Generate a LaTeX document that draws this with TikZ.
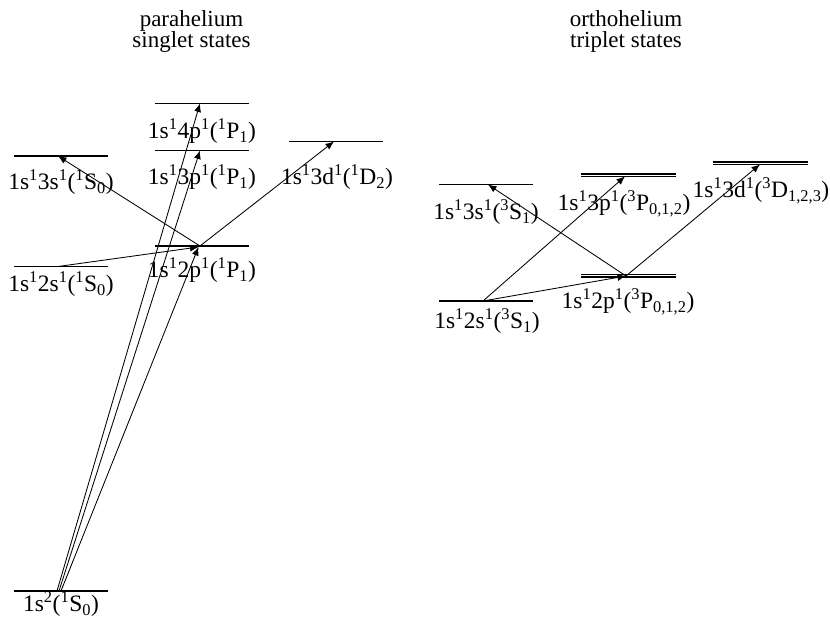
\documentclass[tikz,border=0pt]{standalone}
\usepackage{fontspec}
\setmainfont{Liberation Serif}
\usetikzlibrary{arrows.meta}
\newcommand\up[1]{\textsuperscript{#1}}
\newcommand\dn[1]{\textsubscript{#1}}
\newcommand\trilevel[3]{\foreach \d in {-1.7,0,1.7}{\draw[thinlvl] (#1,#3+\d) -- (#2,#3+\d);}}
\begin{document}
\begin{tikzpicture}[x=1pt,y=-1pt,
  lvl/.style={line width=1.1pt},
  thinlvl/.style={line width=0.65pt},
  arr/.style={-{Latex[length=8.5pt,width=7pt]},line width=0.85pt},
  lab/.style={font=\fontsize{23.5}{27}\selectfont,inner sep=0pt},
  ttl/.style={font=\fontsize{23}{27}\selectfont,inner sep=0pt}]
\useasboundingbox (0,0) rectangle (830,620);

% titles
\node[ttl,anchor=base] (tpara) at (191.5,27) {parahelium};
\node[ttl,anchor=base] (tsing) at (191.5,48) {singlet states};
\node[ttl,anchor=base] (tortho) at (626,27) {orthohelium};
\node[ttl,anchor=base] (ttrip) at (626,48) {triplet states};

% singlet levels
\draw[lvl] (14,591) -- (108,591);
\draw[lvl] (14,266.5) -- (108,266.5);
\draw[lvl] (14,156) -- (108,156);
\draw[lvl] (155,246) -- (249,246);
\draw[lvl] (155,150.5) -- (249,150.5);
\draw[lvl] (155,103.5) -- (249,103.5);
\draw[lvl] (289,141.5) -- (383,141.5);

% singlet labels
\node[lab] (lg) at (61,604) {1s\up{2}(\up{1}S\dn{0})};
\node[lab] (ls2) at (61,284) {1s\up{1}2s\up{1}(\up{1}S\dn{0})};
\node[lab] (ls3) at (61,182.5) {1s\up{1}3s\up{1}(\up{1}S\dn{0})};
\node[lab] (lp2) at (202,270) {1s\up{1}2p\up{1}(\up{1}P\dn{1})};
\node[lab] (lp3) at (202,177) {1s\up{1}3p\up{1}(\up{1}P\dn{1})};
\node[lab] (lp4) at (202,131) {1s\up{1}4p\up{1}(\up{1}P\dn{1})};
\node[lab] (ld3) at (337,177) {1s\up{1}3d\up{1}(\up{1}D\dn{2})};

% singlet transition points
\coordinate (ga) at (57,591);
\coordinate (gb) at (59,591);
\coordinate (gc) at (61,591);
\coordinate (s2) at (58,266.5);
\coordinate (s3) at (58,156);
\coordinate (p2) at (200,246);
\coordinate (p2t) at (198.5,247);
\coordinate (p3) at (200,150.5);
\coordinate (p4) at (200,103.5);
\coordinate (d3) at (334,141.5);

\draw[arr] (ga) -- (p4);
\draw[arr] (gb) -- (p3);
\draw[arr] (gc) -- (p2t);
\draw[arr] (s2) -- (p2t);
\draw[arr] (p2) -- (s3);
\draw[arr] (p2) -- (d3);

% triplet levels
\draw[lvl] (439,301) -- (533,301);
\draw[lvl] (439,184.5) -- (533,184.5);
\trilevel{581}{676}{276}
\trilevel{581}{676}{174.7}
\trilevel{713}{808}{162.7}

% triplet labels
\node[lab] (tls2) at (487,321) {1s\up{1}2s\up{1}(\up{3}S\dn{1})};
\node[lab] (tls3) at (486,212) {1s\up{1}3s\up{1}(\up{3}S\dn{1})};
\node[lab] (tlp2) at (628,302) {1s\up{1}2p\up{1}(\up{3}P\dn{0,1,2})};
\node[lab] (tlp3) at (624,204) {1s\up{1}3p\up{1}(\up{3}P\dn{0,1,2})};
\node[lab] (tld3) at (761,191) {1s\up{1}3d\up{1}(\up{3}D\dn{1,2,3})};

% triplet transition points
\coordinate (ts2) at (483,301);
\coordinate (ts3) at (488,184.5);
\coordinate (tp2) at (626,276);
\coordinate (tp3) at (625,176.4);
\coordinate (td3) at (760,164.4);

\draw[arr] (ts2) -- (tp2);
\draw[arr] (ts2) -- (tp3);
\draw[arr] (tp2) -- (ts3);
\draw[arr] (tp2) -- (td3);
\end{tikzpicture}
\end{document}
